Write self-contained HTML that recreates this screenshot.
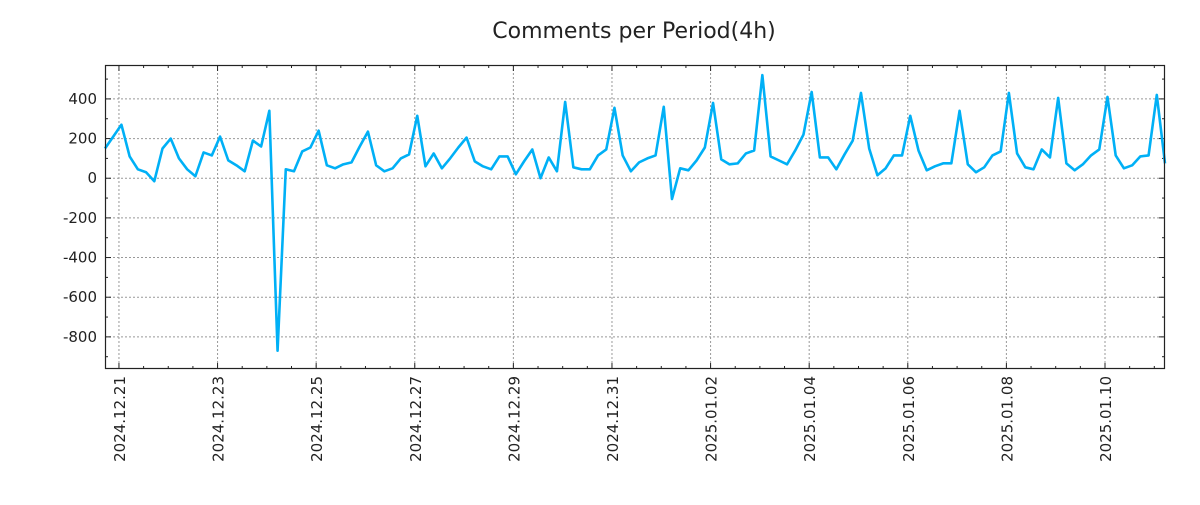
<!DOCTYPE html>
<html><head><meta charset="utf-8"><style>
body{margin:0;background:#fff;width:1200px;height:500px;overflow:hidden;font-family:"Liberation Sans","DejaVu Sans",sans-serif}
</style></head><body>
<svg id="chart" width="1200" height="500" xmlns="http://www.w3.org/2000/svg" font-family="DejaVu Sans, Liberation Sans, sans-serif">
<text x="634" y="38" font-size="22" text-anchor="middle" fill="#222">Comments per Period(4h)</text>
<g id="grid"></g><g id="axes"></g><g id="series"></g>
<rect x="105.5" y="65.5" width="1059" height="303" fill="none" stroke="#222" stroke-width="1.2"/>
</svg>
<script>
const values=[150,210,270,110,45,30,-15,150,200,100,45,10,130,115,210,90,65,35,190,160,340,-870,45,35,135,155,240,65,50,70,80,160,235,65,35,50,100,120,315,60,125,50,100,155,205,85,60,45,110,110,20,85,145,0,105,35,385,55,45,45,115,145,355,115,35,80,100,115,360,-105,50,40,90,155,380,95,70,75,125,140,520,110,90,70,140,220,435,105,105,45,120,190,430,150,15,50,115,115,315,140,40,60,75,75,340,70,30,55,115,135,430,125,55,45,145,105,405,75,40,70,115,145,410,115,50,65,110,115,420,75];
const xTickDays=[0,2,4,6,8,10,12,14,16,18,20];
const xTickLabels=["2024.12.21","2024.12.23","2024.12.25","2024.12.27","2024.12.29","2024.12.31","2025.01.02","2025.01.04","2025.01.06","2025.01.08","2025.01.10"];
const yTicks=[-800,-600,-400,-200,0,200,400];
const startDay=-0.283, stepDay=1/6;
const L=105,R=1165,T=65,B=369,yMin=-962,yMax=571;
const tEnd=startDay+(values.length-1)*stepDay;
const xs=d=>L+(d-startDay)/(tEnd-startDay)*(R-L);
const ys=v=>B-(v-yMin)/(yMax-yMin)*(B-T);
const NS="http://www.w3.org/2000/svg";
const grid=document.getElementById('grid'),axes=document.getElementById('axes'),ser=document.getElementById('series');
function mk(tag,attrs,parent){const e=document.createElementNS(NS,tag);for(const k in attrs)e.setAttribute(k,attrs[k]);parent.appendChild(e);return e;}
for(let d=-0.5;d<=21.5;d+=0.5){const x=xs(d);if(x<L||x>R)continue;const major=xTickDays.includes(d);const len=major?6:3;
 const t1=mk('line',{x1:x,x2:x,y1:B,y2:B-len,stroke:'#222'},axes);
 
 
 const t2=mk('line',{x1:x,x2:x,y1:T,y2:T+len,stroke:'#222'},axes);
 
 }
xTickDays.forEach((d,i)=>{const x=xs(d);
 const g=mk('line',{x1:x,x2:x,y1:T,y2:B,stroke:'#999','stroke-dasharray':'2,2'},grid);
 
 
 const t=mk('text',{x:0,y:0,transform:`translate(${x+6},376) rotate(-90)`,'font-size':15,'text-anchor':'end',fill:'#222'},axes);
 t.textContent=xTickLabels[i];
 
 });
for(let v=-900;v<=500;v+=100){const y=ys(v);const major=yTicks.includes(v);const len=major?6:3;
 const a=mk('line',{x1:L,x2:L+len,y1:y,y2:y,stroke:'#222'},axes);
 
 
 const b=mk('line',{x1:R,x2:R-len,y1:y,y2:y,stroke:'#222'},axes);
 
 }
yTicks.forEach(v=>{const y=ys(v);
 const g=mk('line',{x1:L,x2:R,y1:y,y2:y,stroke:'#999','stroke-dasharray':'2,2'},grid);
 
 
 const t=mk('text',{x:97,y:y+5,'font-size':15,'text-anchor':'end',fill:'#222'},axes);
 t.textContent=v;
 
 });
const pts=values.map((v,i)=>xs(startDay+i*stepDay).toFixed(2)+','+ys(v).toFixed(2)).join(' ');
const line=mk('polyline',{points:pts,fill:'none',stroke:'#00b0f6','stroke-width':2.6,'stroke-linejoin':'round'},ser);


</script>
</body></html>
